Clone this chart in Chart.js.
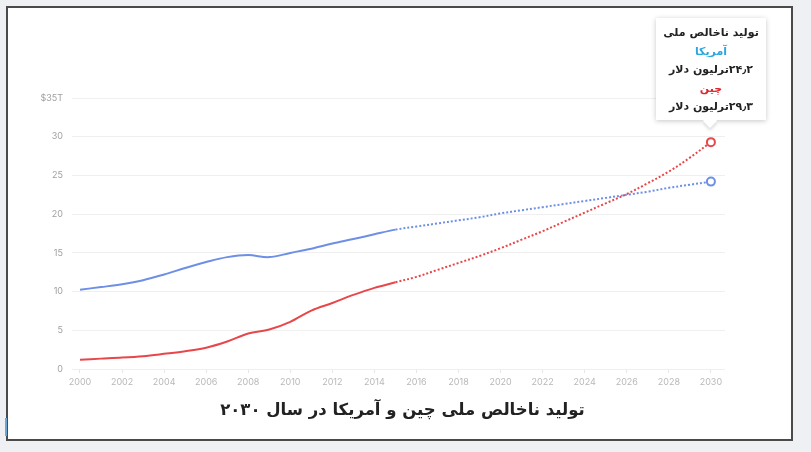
<!DOCTYPE html>
<html>
<head>
<meta charset="utf-8">
<script src="https://cdn.jsdelivr.net/npm/chart.js"></script>
<style>
  body { margin: 0; width: 811px; height: 452px; background: #eef0f3; position: relative; overflow: hidden; font-family: "DejaVu Sans", sans-serif; }
  #frame { position: absolute; left: 6px; top: 6px; width: 783px; height: 431px; background: #fff; border: 2px solid #4a4a4a; }
  #chartBox { position: absolute; left: 8px; top: 8px; width: 780px; height: 400px; }
  #title { position: absolute; left: 0; width: 805px; top: 400px; text-align: center; direction: rtl; font-weight: bold; font-size: 16.5px; color: #222; }
  #tip { position: absolute; left: 656px; top: 18px; width: 110px; height: 102px; background: #fff; box-shadow: 0 1px 5px rgba(0,0,0,0.22); direction: rtl; text-align: center; font-weight: bold; font-size: 11px; line-height: 18.5px; color: #222; padding-top: 6px; box-sizing: border-box; }
  #tip:after { content: ""; position: absolute; left: 49px; bottom: -6px; width: 10px; height: 10px; background: #fff; transform: rotate(45deg); box-shadow: 2px 2px 3px rgba(0,0,0,0.12); }
  .us { color: #2aa7e0; }
  .cn { color: #e0262d; }
  #mark { position: absolute; left: 5px; top: 418px; width: 2px; height: 18px; background: #6aa6d8; }
</style>
</head>
<body>
<div id="frame"></div>
<div id="mark"></div>
<div id="chartBox"><canvas id="chart"></canvas></div>
<div id="tip">
  <div>تولید ناخالص ملی</div>
  <div class="us">آمریکا</div>
  <div>۲۴٫۲ترلیون دلار</div>
  <div class="cn">چین</div>
  <div>۲۹٫۳ترلیون دلار</div>
</div>
<div id="title">تولید ناخالص ملی چین و آمریکا در سال ۲۰۳۰</div>
<script>
const years = [2000, 2001, 2002, 2003, 2004, 2005, 2006, 2007, 2008, 2009, 2010,
  2011, 2012, 2013, 2014, 2015, 2016, 2017, 2018, 2019, 2020,
  2021, 2022, 2023, 2024, 2025, 2026, 2027, 2028, 2029, 2030];
const usaGdp = [10.25, 10.58, 10.94, 11.46, 12.21, 13.04, 13.81, 14.45, 14.71, 14.45, 14.99,
  15.54, 16.2, 16.78, 17.4, 18.0, 18.4, 18.8, 19.2, 19.6, 20.1,
  20.5, 20.9, 21.3, 21.7, 22.1, 22.5, 22.9, 23.4, 23.8, 24.2];
const chinaGdp = [1.21, 1.34, 1.47, 1.66, 1.96, 2.29, 2.75, 3.55, 4.59, 5.1, 6.09,
  7.55, 8.53, 9.57, 10.48, 11.2, 11.9, 12.8, 13.7, 14.6, 15.6,
  16.7, 17.8, 19.0, 20.2, 21.4, 22.6, 24.0, 25.5, 27.3, 29.3];
const forecastFrom = 2015;
const yTicks = [0, 5, 10, 15, 20, 25, 30, 35];

const usaColor = '#6e8fe6';
const chinaColor = '#e8474a';

function toPoints(values) {
  return years.map((y, i) => ({ x: y, y: values[i] }));
}

function makeSet(label, values, color) {
  return {
    label: label,
    data: toPoints(values),
    borderColor: color,
    backgroundColor: '#fff',
    borderWidth: 2,
    tension: 0.35,
    pointRadius: ctx => ctx.dataIndex === years.length - 1 ? 4 : 0,
    pointBorderWidth: 2,
    pointBorderColor: color,
    pointBackgroundColor: '#fff',
    segment: {
      borderDash: ctx => ctx.p0.parsed.x >= forecastFrom ? [2, 2] : undefined
    }
  };
}

new Chart(document.getElementById('chart'), {
  type: 'line',
  data: {
    datasets: [makeSet('USA', usaGdp, usaColor), makeSet('China', chinaGdp, chinaColor)]
  },
  options: {
    responsive: true,
    maintainAspectRatio: false,
    animation: false,
    layout: { padding: { top: 90, right: 63, left: 0, bottom: 19 } },
    plugins: { legend: { display: false }, tooltip: { enabled: false } },
    scales: {
      x: {
        type: 'linear',
        min: 1999.62,
        max: 2030.67,
        afterBuildTicks: axis => { axis.ticks = years.filter(y => y % 2 === 0).map(v => ({ value: v })); },
        afterFit: axis => { axis.height = 20; },
        grid: { drawOnChartArea: false, color: '#e6e6e6', tickLength: 4 },
        border: { display: false },
        ticks: { color: '#b8b8b8', font: { family: 'Inter', size: 9 }, padding: 4, maxRotation: 0, callback: v => String(v) }
      },
      y: {
        min: 0,
        max: 35,
        afterBuildTicks: axis => { axis.ticks = yTicks.map(v => ({ value: v })); },
        afterFit: axis => { axis.width = 64; },
        grid: { color: '#efefef', drawTicks: false },
        border: { display: false },
        ticks: {
          color: '#a0a0a0', font: { family: 'Inter', size: 9 }, padding: 9,
          callback: v => v === 35 ? '$35T' : String(v)
        }
      }
    }
  }
});
</script>
</body>
</html>
